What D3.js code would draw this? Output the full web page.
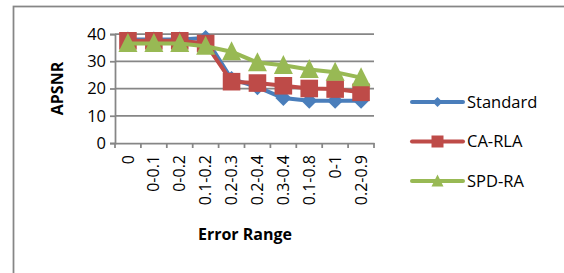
<!doctype html>
<html>
<head>
<meta charset="UTF-8">
<title>APSNR vs Error Range</title>
<script src="https://cdn.jsdelivr.net/npm/d3@7"></script>
<style>
  body { margin: 0; background: #fff; }
  svg text { font-family: "Open Sans", "Liberation Sans", Arial, sans-serif; fill: #000; }
</style>
</head>
<body>
<svg id="chart" width="564" height="273"></svg>
<script>
// data
var categories = ['0', '0-0.1', '0-0.2', '0.1-0.2', '0.2-0.3', '0.2-0.4', '0.3-0.4', '0.1-0.8', '0-1', '0.2-0.9'];
var standard = [38, 38, 38, 38.5, 23.5, 20.5, 16.5, 15.5, 15.5, 15.5];
var caRla    = [37.5, 37.5, 37.5, 36.5, 22.5, 22, 21, 20, 19.8, 18.6];
var spdRa    = [36.5, 36.5, 36.5, 35.5, 33.5, 29.5, 28.5, 27, 26, 24];
var yTicks = [0, 10, 20, 30, 40];

var series = [
  { name: 'Standard', values: standard, color: '#4a7ebb', shape: 'diamond' },
  { name: 'CA-RLA',   values: caRla,    color: '#be4b48', shape: 'square' },
  { name: 'SPD-RA',   values: spdRa,    color: '#98b954', shape: 'triangle' }
];

var svg = d3.select('#chart');
var gridColor = '#868686';

// outer chart border (cropped on right and bottom)
svg.append('rect')
  .attr('x', 13.5).attr('y', 6.5)
  .attr('width', 600).attr('height', 300)
  .attr('fill', 'none').attr('stroke', gridColor).attr('stroke-width', 1.75);

var plotL = 115, plotR = 374, plotT = 34, plotB = 143;

var x = d3.scaleBand().domain(categories).range([plotL, plotR]);
var y = d3.scaleLinear().domain([0, 40]).range([plotB, plotT]);

// gridlines
svg.append('g')
  .selectAll('line')
  .data(yTicks.slice(1))
  .enter().append('line')
  .attr('x1', plotL).attr('x2', plotR)
  .attr('y1', function(d) { return y(d); })
  .attr('y2', function(d) { return y(d); })
  .attr('stroke', gridColor).attr('stroke-width', 1.75);

// y axis
var yAxis = svg.append('g')
  .attr('transform', 'translate(' + plotL + ',0)')
  .call(d3.axisLeft(y).tickValues(yTicks).tickSize(5).tickPadding(4));
yAxis.selectAll('text').style('font-size', '16.5px');
yAxis.selectAll('line, path').attr('stroke', gridColor).attr('stroke-width', 1.75);

// x axis with tick marks at category boundaries
var xAxis = svg.append('g')
  .attr('transform', 'translate(0,' + plotB + ')')
  .call(d3.axisBottom(x).tickSize(0).tickPadding(0));
xAxis.select('.domain').attr('stroke', gridColor).attr('stroke-width', 1.75);
xAxis.selectAll('.tick text')
  .style('font-size', '16px')
  .attr('text-anchor', 'end')
  .attr('transform', 'rotate(-90)')
  .attr('x', -12).attr('y', 0).attr('dy', '0.35em');

var bounds = categories.map(function(c) { return x(c); }).concat([plotR]);
xAxis.selectAll('.bound')
  .data(bounds)
  .enter().append('line')
  .attr('class', 'bound')
  .attr('x1', function(d) { return d; }).attr('x2', function(d) { return d; })
  .attr('y1', 0).attr('y2', 5)
  .attr('stroke', gridColor).attr('stroke-width', 1.75);

// axis titles
svg.append('text')
  .attr('transform', 'translate(63,' + ((plotT + plotB) / 2) + ') rotate(-90)')
  .attr('text-anchor', 'middle')
  .style('font-size', '16px').style('font-weight', 'bold')
  .text('APSNR');

svg.append('text')
  .attr('x', 245).attr('y', 240)
  .attr('text-anchor', 'middle')
  .style('font-size', '16px').style('font-weight', 'bold')
  .text('Error Range');

// excel-style markers
function marker(shape, r) {
  if (shape === 'diamond') return 'M0,' + (-r) + 'L' + r + ',0L0,' + r + 'L' + (-r) + ',0Z';
  if (shape === 'square') return 'M' + (-r) + ',' + (-r) + 'h' + (2 * r) + 'v' + (2 * r) + 'h' + (-2 * r) + 'Z';
  return 'M0,' + (-r * 1.1) + 'L' + r + ',' + (r * 0.9) + 'L' + (-r) + ',' + (r * 0.9) + 'Z';
}
var plotR_ = { diamond: 8, square: 8.8, triangle: 9.5 };
var legR = { diamond: 5, square: 6, triangle: 6 };

var line = d3.line()
  .x(function(d, i) { return x(categories[i]) + x.bandwidth() / 2; })
  .y(function(d) { return y(d); });

series.forEach(function(s) {
  var g = svg.append('g');
  g.append('path')
    .datum(s.values)
    .attr('fill', 'none')
    .attr('stroke', s.color)
    .attr('stroke-width', 4)
    .attr('stroke-linejoin', 'round')
    .attr('d', line);
  g.selectAll('path.pt')
    .data(s.values)
    .enter().append('path')
    .attr('class', 'pt')
    .attr('d', marker(s.shape, plotR_[s.shape]))
    .attr('transform', function(d, i) {
      return 'translate(' + (x(categories[i]) + x.bandwidth() / 2) + ',' + y(d) + ')';
    })
    .attr('fill', s.color);
});

// legend
var legend = svg.append('g');
series.forEach(function(s, i) {
  var ly = 102 + i * 39.5;
  legend.append('line')
    .attr('x1', 412).attr('x2', 463)
    .attr('y1', ly).attr('y2', ly)
    .attr('stroke', s.color).attr('stroke-width', 4)
    .attr('stroke-linecap', 'round');
  legend.append('path')
    .attr('d', marker(s.shape, legR[s.shape]))
    .attr('transform', 'translate(437.5,' + ly + ')')
    .attr('fill', s.color);
  legend.append('text')
    .attr('x', 467).attr('y', ly).attr('dy', '0.35em')
    .style('font-size', '16.5px')
    .text(s.name);
});
</script>
</body>
</html>
